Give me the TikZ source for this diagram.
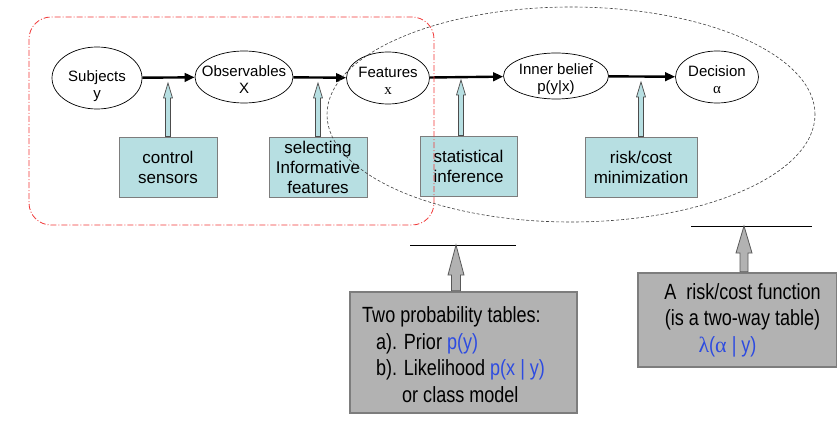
\documentclass[tikz,border=0pt]{standalone}
\usepackage{fontspec}
\setmainfont{Liberation Sans}
\newfontfamily\symfont{Liberation Serif}
\newfontfamily\narrowfont[FakeStretch=0.82]{Liberation Sans}
\usetikzlibrary{shapes.geometric,arrows.meta,calc}

\definecolor{boxblue}{RGB}{183,223,226}
\definecolor{boxgray}{RGB}{178,178,178}
\definecolor{edgegray}{RGB}{125,125,125}
\definecolor{textblue}{RGB}{45,75,225}
\definecolor{redline}{RGB}{240,55,55}

\tikzset{
  oval/.style={ellipse, draw, line width=0.7pt, fill=white, inner sep=0pt},
  ovaltext/.style={align=center, inner sep=0pt, yshift=-3pt, font=\fontsize{15}{17}\selectfont},
  task/.style={rectangle, draw=edgegray, fill=boxblue, line width=1pt, inner sep=0pt, minimum width=98pt, minimum height=60pt, align=center, font=\fontsize{17}{20}\selectfont},
  tablebox/.style={rectangle, draw=edgegray, fill=boxgray, line width=2.5pt, inner sep=0pt},
  tabletext/.style={inner sep=0pt, font={\narrowfont\fontsize{22}{26.5}\selectfont}},
  flow/.style={line width=2.4pt, -{Triangle[length=10pt,width=8.5pt]}},
  hollow/.style={draw=black!70, fill=boxblue, line width=0.7pt},
  solidgray/.style={draw=black!65, fill=boxgray, line width=0.8pt},
}

\newcommand{\blockarrow}[6]{%
  \draw[#6] let \p1=(#1), \p2=(#2) in
    (\x2-#3,\y1) -- (\x2-#3,\y2-#5) -- (\x2-#4,\y2-#5) -- (\x2,\y2)
    -- (\x2+#4,\y2-#5) -- (\x2+#3,\y2-#5) -- (\x2+#3,\y1) -- cycle;}

\begin{document}
\begin{tikzpicture}[x=1pt, y=-1pt]
\useasboundingbox (0,0) rectangle (837,425);

\node[oval, minimum width=90pt, minimum height=62pt] (subj) at (97,78) {};
\node[ovaltext, yshift=-5pt] (subjtext) at (subj) {Subjects\\y};
\node[oval, minimum width=98pt, minimum height=52pt] (obs) at (244,77) {};
\node[ovaltext] (obstext) at (obs) {Observables\\X};
\node[oval, minimum width=83pt, minimum height=52pt] (feat) at (388,78) {};
\node[ovaltext] (feattext) at (feat) {Features\\{\symfont x}};
\node[oval, minimum width=105pt, minimum height=46pt] (belief) at (556,76) {};
\node[ovaltext] (belieftext) at (belief) {Inner belief\\p(y|x)};
\node[oval, minimum width=83pt, minimum height=52pt] (dec) at (717,77) {};
\node[ovaltext] (dectext) at (dec) {Decision\\{\symfont α}};

\draw[flow] (subj) -- (obs);
\draw[flow] (obs) -- (feat);
\draw[flow] (feat) -- (belief);
\draw[flow] (belief) -- (dec);

\node[task] (ctl) at (168,167) {control\\sensors};
\node[task] (sel) at (318,167) {selecting\\Informative\\features};
\node[task, minimum width=97pt] (inf) at (468.5,166) {statistical\\inference};
\node[task, minimum width=112pt] (risk) at (641,167) {risk/cost\\minimization};

\coordinate (tctl) at (168,83);
\coordinate (tsel) at (318,83);
\coordinate (tinf) at (461,80);
\coordinate (trisk) at (641,82);
\blockarrow{ctl.north}{tctl}{2.5pt}{4.5pt}{15pt}{hollow}
\blockarrow{sel.north}{tsel}{2.5pt}{4.5pt}{15pt}{hollow}
\blockarrow{inf.north}{tinf}{2.5pt}{4.5pt}{15pt}{hollow}
\blockarrow{risk.north}{trisk}{2.5pt}{4.5pt}{15pt}{hollow}

\coordinate (priorl) at (410,245);
\coordinate (priorr) at (516,245);
\coordinate (tprior) at (456,245);
\draw[line width=0.7pt] (priorl) -- (priorr);
\node[tablebox, minimum width=227pt, minimum height=121pt] (prior) at (463.5,352.5) {};
\node[tabletext, align=left, anchor=west] (priortext) at (362,354.5) {Two probability tables:\\
\hspace*{14pt}a). Prior {\color{textblue}p(y)}\\
\hspace*{14pt}b). Likelihood {\color{textblue}p(x | y)}\\
\hspace*{40pt}or class model};
\blockarrow{prior.north}{tprior}{4.5pt}{8pt}{30pt}{solidgray}

\coordinate (costl) at (691,226);
\coordinate (costr) at (812,226);
\coordinate (tcost) at (744,226);
\draw[line width=0.7pt] (costl) -- (costr);
\node[tablebox, minimum width=199pt, minimum height=94pt] (cost) at (737.5,320) {};
\node[tabletext, align=center] (costtext) at (742.5,320) {A\ \ risk/cost function\\(is a two-way table)\\{\color{textblue}{\symfont λ}({\symfont α} | y)}\hspace*{30pt}};
\blockarrow{cost.north}{tcost}{4pt}{8pt}{27pt}{solidgray}

\draw[black!75, line width=0.6pt, dash pattern=on 3pt off 2pt] (571,114.5) ellipse [x radius=244pt, y radius=107.5pt];
\draw[redline, line width=0.8pt, dash pattern=on 6pt off 2pt on 1pt off 2pt, rounded corners=22pt] (29,17) rectangle (434,225);
\end{tikzpicture}
\end{document}
